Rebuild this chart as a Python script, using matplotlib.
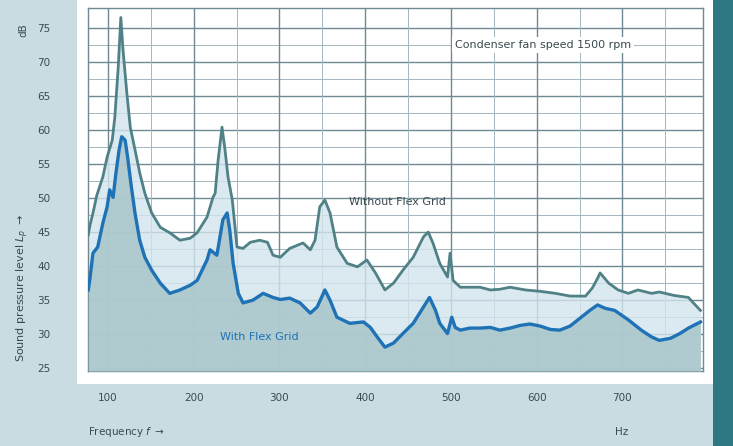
import matplotlib
matplotlib.use("Agg")
import matplotlib.pyplot as plt
from matplotlib.patches import Rectangle

# Narrow-band spectrum, sound pressure level in dB versus frequency in Hz
freq_without = [77, 79, 82.5, 87, 94, 99, 105, 108, 112, 115, 117.5, 122, 126, 131.5, 137, 143,
                151, 161, 172, 184, 196, 204, 215.5, 222.5, 225, 228.5, 233, 236.5, 240, 245,
                250.5, 257.5, 266, 277, 286, 292.5, 301, 312, 327.5, 336, 341.5, 347, 353, 359,
                367, 379, 391, 402, 412, 423, 433, 444, 456, 468, 473.5, 479, 487, 496, 499,
                502.5, 511, 522, 534, 546, 557, 569, 587, 604, 622, 639, 657, 665, 671, 674,
                684, 695, 707, 718, 734, 743, 760, 777, 785, 791]
level_without = [44.6, 46.0, 47.8, 50.4, 53.1, 56.0, 58.5, 61.9, 69.3, 76.5, 71.8, 65.4, 60.4, 57.1,
                 53.7, 50.7, 47.8, 45.7, 44.9, 43.8, 44.1, 44.9, 47.2, 50.1, 50.7, 55.6, 60.4,
                 57.1, 53.1, 49.7, 42.8, 42.6, 43.5, 43.8, 43.5, 41.6, 41.3, 42.6, 43.4, 42.4,
                 43.8, 48.7, 49.7, 47.8, 42.8, 40.4, 39.9, 40.9, 39.0, 36.5, 37.5, 39.4, 41.3,
                 44.3, 45.0, 43.4, 40.4, 38.4, 41.9, 37.9, 36.9, 36.9, 36.9, 36.5, 36.6, 36.9,
                 36.5, 36.3, 36.0, 35.6, 35.6, 36.8, 38.2, 39.0, 37.5, 36.5, 36.0, 36.5, 36.0,
                 36.2, 35.7, 35.4, 34.3, 33.5]

freq_with = [77, 79, 82.5, 88, 94, 99, 102, 106, 109, 113, 116, 120, 123, 127, 131.5, 137, 143,
             151, 161, 172, 184, 196, 204, 215.5, 219, 227, 234, 239, 242, 246, 252, 257.5,
             269, 281, 292.5, 301, 312, 324, 336, 344, 353, 359, 367, 382, 398, 406, 414, 423,
             433, 444, 456, 468, 475, 482, 487, 496, 501, 505, 511, 522, 534, 546, 557, 569,
             581, 592, 604, 616, 627, 639, 651, 662, 671, 680, 691, 707, 722, 734, 743, 756,
             767, 777, 791]
level_with = [36.5, 38.2, 41.9, 42.8, 46.3, 48.7, 51.2, 50.1, 53.4, 57.1, 59.0, 58.5, 55.9, 51.9,
              47.8, 43.8, 41.3, 39.4, 37.5, 36.0, 36.5, 37.2, 37.9, 40.9, 42.4, 41.6, 46.8,
              47.8, 45.3, 40.4, 36.0, 34.6, 35.0, 36.0, 35.4, 35.1, 35.3, 34.6, 33.1, 34.0,
              36.5, 35.0, 32.5, 31.6, 31.8, 31.0, 29.6, 28.1, 28.7, 30.1, 31.6, 34.0, 35.4,
              33.5, 31.6, 30.1, 32.5, 31.0, 30.6, 30.9, 30.9, 31.0, 30.6, 30.9, 31.3, 31.5,
              31.2, 30.7, 30.6, 31.2, 32.4, 33.5, 34.3, 33.8, 33.5, 32.1, 30.6, 29.6, 29.1,
              29.4, 30.1, 30.9, 31.8]

x_ticks = [100, 200, 300, 400, 500, 600, 700]
y_ticks = [25, 30, 35, 40, 45, 50, 55, 60, 65, 70, 75]

label_without = "Without Flex Grid"
label_with = "With Flex Grid"
condition_text = "Condenser fan speed 1500 rpm"

W, H = 733, 446
fig = plt.figure(figsize=(W / 100, H / 100), dpi=100)
fig.patch.set_facecolor("#c8dce1")

# white panel behind the chart and the teal strip on the right
fig.patches.append(Rectangle((77 / W, 1 - 384 / H), (713 - 77) / W, 384 / H,
                             transform=fig.transFigure, facecolor="white",
                             edgecolor="none", zorder=0))
fig.patches.append(Rectangle((713 / W, 0), 1 - 713 / W, 1,
                             transform=fig.transFigure, facecolor="#2e7884",
                             edgecolor="none", zorder=0))

ax = fig.add_axes([88 / W, 1 - 371 / H, (703 - 88) / W, (371 - 8) / H])
ax.set_zorder(2)
ax.set_facecolor("white")
ax.set_xlim(76.7, 794)
ax.set_ylim(24.6, 77.9)

# grid: darker lines every 5 dB / 100 Hz, lighter ones in between
grid_dark = "#6f8a95"
grid_light = "#a3b7c0"
for v in [25 + 2.5 * i for i in range(21)]:
    major = (v % 5 == 0)
    ax.axhline(v, color=grid_dark if major else grid_light,
               lw=1.0 if major else 0.7, zorder=1)
for f in range(100, 751, 50):
    major = (f % 100 == 0)
    ax.axvline(f, color=grid_dark if major else grid_light,
               lw=1.0 if major else 0.7, zorder=1)

bottom = ax.get_ylim()[0]
ax.fill_between(freq_without, bottom, level_without, color="#d3e5ed", alpha=0.8,
                lw=0, zorder=2)
ax.fill_between(freq_with, bottom, level_with, color="#a9c7cb", alpha=0.88,
                lw=0, zorder=3)
ax.plot(freq_without, level_without, color="#4f8186", lw=2.0, zorder=4)
ax.plot(freq_with, level_with, color="#1f72b6", lw=2.4, zorder=5)

ax.text(438, 49.4, label_without, fontsize=8, color="#3a4a50",
        ha="center", va="center", zorder=6)
ax.text(276, 29.6, label_with, fontsize=8, color="#1f72b6",
        ha="center", va="center", zorder=6)
ax.text(607, 72.5, condition_text, fontsize=8, color="#3a4a50",
        ha="center", va="center", zorder=6,
        bbox=dict(facecolor="white", edgecolor="none", pad=2))

ax.set_xticks(x_ticks)
ax.set_xticklabels([str(t) for t in x_ticks])
ax.set_yticks(y_ticks)
ax.set_yticklabels([str(t) for t in y_ticks])
ax.tick_params(axis="both", length=0, labelsize=7.5, labelcolor="#3a4a50")
ax.tick_params(axis="y", pad=27)
ax.tick_params(axis="x", pad=16)
for s in ax.spines.values():
    s.set_color("#6f8a95")
    s.set_linewidth(1.0)

fig.text(23 / W, 1 - 288 / H, r"Sound pressure level $L_p$ $\rightarrow$", rotation=90,
         fontsize=8, color="#3a4a50", ha="center", va="center")
fig.text(23 / W, 1 - 30 / H, "dB", rotation=90, fontsize=7.5, color="#3a4a50",
         ha="center", va="center")
fig.text(88 / W, 1 - 432 / H, r"Frequency $f$ $\rightarrow$", fontsize=7.5,
         color="#3a4a50", ha="left", va="center")
fig.text(622 / W, 1 - 432 / H, "Hz", fontsize=7.5, color="#3a4a50",
         ha="center", va="center")

fig.savefig("out.png", dpi=100)
